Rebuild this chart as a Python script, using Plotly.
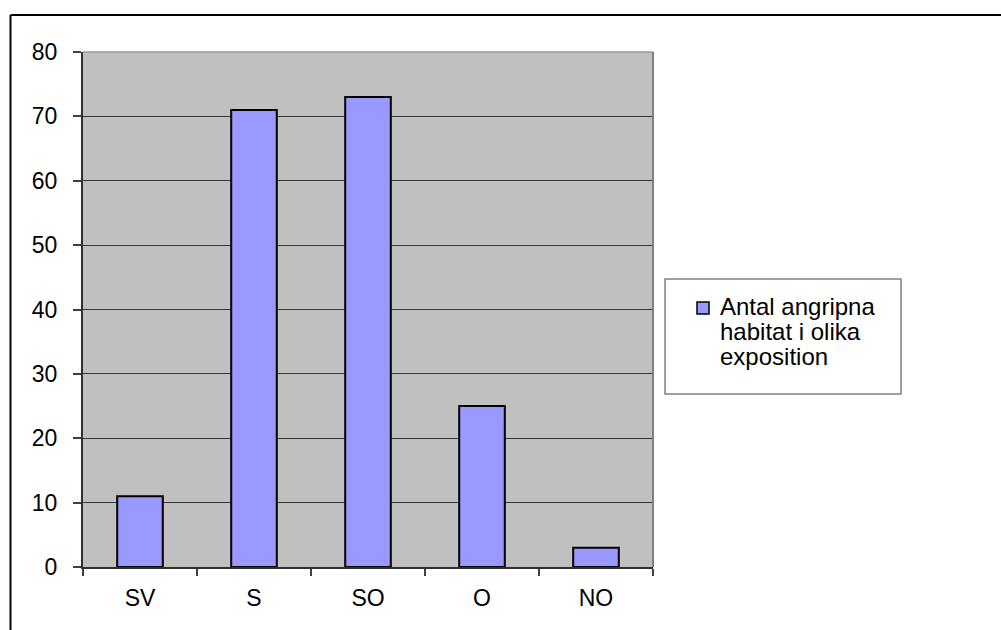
import plotly.graph_objects as go

categories = ["SV", "S", "SO", "O", "NO"]
values = [11, 71, 73, 25, 3]
series_name = "Antal angripna habitat i olika exposition"
legend_lines = ["Antal angripna", "habitat i olika", "exposition"]
y_ticks = [0, 10, 20, 30, 40, 50, 60, 70, 80]

W, H = 1001, 630
L, R, T, B = 83, 653, 52, 567
pw, ph = R - L, B - T

def px(x):
    return (x - L) / pw

def py(y):
    return (B - y) / ph

fig = go.Figure()
fig.add_trace(go.Bar(
    x=categories, y=values, name=series_name,
    marker=dict(color="#9999FF", line=dict(color="#000000", width=2)),
    showlegend=False,
))

font = "Liberation Sans, Arial, sans-serif"

shapes = [
    # outer frame
    dict(type="line", xref="paper", yref="paper", x0=px(10.5), x1=px(1010), y0=py(15), y1=py(15),
         line=dict(color="#000", width=2)),
    dict(type="line", xref="paper", yref="paper", x0=px(10.5), x1=px(10.5), y0=py(15), y1=py(640),
         line=dict(color="#000", width=2)),
    # plot area top & right borders
    dict(type="line", xref="paper", yref="paper", x0=0, x1=1, y0=1, y1=1,
         line=dict(color="#9a9a9a", width=1.5)),
    dict(type="line", xref="paper", yref="paper", x0=1, x1=1, y0=0, y1=1,
         line=dict(color="#808080", width=2)),
    # legend box
    dict(type="rect", xref="paper", yref="paper", x0=px(665), x1=px(901), y0=py(279), y1=py(394),
         line=dict(color="#808080", width=1.5), fillcolor="#FFFFFF"),
    dict(type="rect", xref="paper", yref="paper", x0=px(697), x1=px(709), y0=py(302), y1=py(314),
         line=dict(color="#000", width=1.5), fillcolor="#9999FF"),
]

annotations = []
baselines = [316, 341, 366]
for line, bl in zip(legend_lines, baselines):
    annotations.append(dict(
        text=line, xref="paper", yref="paper", x=px(718), y=py(bl + 6),
        xanchor="left", yanchor="bottom", showarrow=False,
        font=dict(family=font, size=24, color="#000"),
    ))

fig.update_layout(
    width=W, height=H,
    margin=dict(l=L, r=W - R, t=T, b=H - B, pad=0),
    paper_bgcolor="#FFFFFF", plot_bgcolor="#C0C0C0",
    bargap=0.6,
    shapes=shapes, annotations=annotations,
    font=dict(family=font, size=23, color="#000"),
    xaxis=dict(
        range=[-0.5, 4.5], tickson="boundaries", ticks="outside", ticklen=7,
        tickcolor="#404040", tickwidth=1.5, showgrid=False,
        showline=True, linecolor="#303030", linewidth=2,
        ticklabelstandoff=9, tickfont=dict(size=23),
    ),
    yaxis=dict(
        range=[0, 80], tickvals=y_ticks, ticks="outside", ticklen=8,
        tickcolor="#404040", tickwidth=1.5,
        showgrid=True, gridcolor="#383838", gridwidth=1.3,
        showline=True, linecolor="#303030", linewidth=2,
        zeroline=False, ticklabelstandoff=11, tickfont=dict(size=23),
    ),
)

fig.write_html("out.html")
